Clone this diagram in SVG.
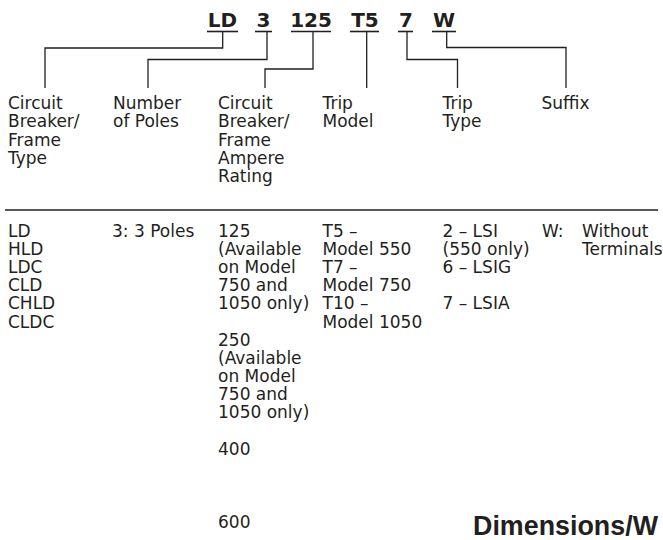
<svg xmlns="http://www.w3.org/2000/svg" width="663" height="540" viewBox="0 0 663 540">
  <style>
    .t { font-family: "DejaVu Sans", "Liberation Sans", sans-serif; font-size: 17px; fill: #231f20; }
    .code { font-family: "DejaVu Sans", "Liberation Sans", sans-serif; font-size: 20px; font-weight: bold; fill: #231f20; text-anchor: middle; }
    .ul { stroke: #231f20; stroke-width: 1.6; }
    .conn { fill: none; stroke: #231f20; stroke-width: 1.3; }
    .rule { stroke: #231f20; stroke-width: 1.4; }
    .h { font-family: "Liberation Sans", Arial, sans-serif; font-size: 27px; font-weight: bold; fill: #231f20; }
  </style>
  <rect width="663" height="540" fill="#ffffff"/>

  <g id="code-LD"><text class="code" x="222.5" y="27">LD</text><line class="ul" x1="207" y1="31.5" x2="238" y2="31.5"/></g>
  <g id="code-3"><text class="code" x="263.5" y="27">3</text><line class="ul" x1="255" y1="31.5" x2="272" y2="31.5"/></g>
  <g id="code-125"><text class="code" x="311" y="27">125</text><line class="ul" x1="291" y1="31.5" x2="331" y2="31.5"/></g>
  <g id="code-T5"><text class="code" x="365" y="27">T5</text><line class="ul" x1="350" y1="31.5" x2="379" y2="31.5"/></g>
  <g id="code-7"><text class="code" x="406" y="27">7</text><line class="ul" x1="398" y1="31.5" x2="413" y2="31.5"/></g>
  <g id="code-W"><text class="code" x="444" y="27">W</text><line class="ul" x1="432" y1="31.5" x2="456" y2="31.5"/></g>

  <g id="connectors">
    <path class="conn" d="M222.7,32 V48 H45 V88"/>
    <path class="conn" d="M267,32 V59.5 H148 V88"/>
    <path class="conn" d="M313,32 V69 H265 V88"/>
    <path class="conn" d="M366.7,32 V88"/>
    <path class="conn" d="M407,32 V59.5 H457.5 V88"/>
    <path class="conn" d="M446.7,32 V47.5 H566 V88"/>
  </g>

  <g id="head-frame-type">
    <text class="t" x="8" y="109">Circuit</text>
    <text class="t" x="8" y="127.3">Breaker/</text>
    <text class="t" x="8" y="145.6">Frame</text>
    <text class="t" x="8" y="163.9">Type</text>
  </g>
  <g id="head-poles">
    <text class="t" x="113" y="109">Number</text>
    <text class="t" x="113" y="127.3">of Poles</text>
  </g>
  <g id="head-rating">
    <text class="t" x="218" y="109">Circuit</text>
    <text class="t" x="218" y="127.3">Breaker/</text>
    <text class="t" x="218" y="145.6">Frame</text>
    <text class="t" x="218" y="163.9">Ampere</text>
    <text class="t" x="218" y="182.2">Rating</text>
  </g>
  <g id="head-trip-model">
    <text class="t" x="322.5" y="109">Trip</text>
    <text class="t" x="322.5" y="127.3">Model</text>
  </g>
  <g id="head-trip-type">
    <text class="t" x="442.5" y="109">Trip</text>
    <text class="t" x="442.5" y="127.3">Type</text>
  </g>
  <g id="head-suffix">
    <text class="t" x="541.5" y="109">Suffix</text>
  </g>

  <line class="rule" x1="5" y1="210" x2="658" y2="210"/>

  <g id="body-frame-type">
    <text class="t" x="8" y="236.5">LD</text>
    <text class="t" x="8" y="254.7">HLD</text>
    <text class="t" x="8" y="272.9">LDC</text>
    <text class="t" x="8" y="291.1">CLD</text>
    <text class="t" x="8" y="309.3">CHLD</text>
    <text class="t" x="8" y="327.5">CLDC</text>
  </g>
  <g id="body-poles">
    <text class="t" x="112" y="236.5">3: 3 Poles</text>
  </g>
  <g id="body-rating">
    <text class="t" x="218" y="236.5">125</text>
    <text class="t" x="218" y="254.7">(Available</text>
    <text class="t" x="218" y="272.9">on Model</text>
    <text class="t" x="218" y="291.1">750 and</text>
    <text class="t" x="218" y="309.3">1050 only)</text>
    <text class="t" x="218" y="345.5">250</text>
    <text class="t" x="218" y="363.7">(Available</text>
    <text class="t" x="218" y="381.9">on Model</text>
    <text class="t" x="218" y="400.1">750 and</text>
    <text class="t" x="218" y="418.3">1050 only)</text>
    <text class="t" x="218" y="455">400</text>
    <text class="t" x="218" y="528">600</text>
  </g>
  <g id="body-trip-model">
    <text class="t" x="322.5" y="236.5">T5 –</text>
    <text class="t" x="322.5" y="254.7">Model 550</text>
    <text class="t" x="322.5" y="272.9">T7 –</text>
    <text class="t" x="322.5" y="291.1">Model 750</text>
    <text class="t" x="322.5" y="309.3">T10 –</text>
    <text class="t" x="322.5" y="327.5">Model 1050</text>
  </g>
  <g id="body-trip-type">
    <text class="t" x="442.5" y="236.5">2 – LSI</text>
    <text class="t" x="442.5" y="254.7">(550 only)</text>
    <text class="t" x="442.5" y="272.9">6 – LSIG</text>
    <text class="t" x="442.5" y="309.3">7 – LSIA</text>
  </g>
  <g id="body-suffix">
    <text class="t" x="542" y="236.5">W:</text>
    <text class="t" x="582" y="236.5">Without</text>
    <text class="t" x="582" y="254.7">Terminals</text>
  </g>

  <text class="h" x="473" y="535" textLength="185" lengthAdjust="spacingAndGlyphs">Dimensions/W</text>
</svg>
